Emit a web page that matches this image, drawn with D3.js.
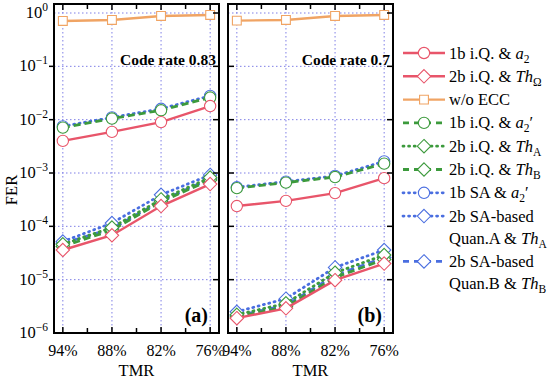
<!DOCTYPE html>
<html>
<script src="https://d3js.org/d3.v7.min.js"></script>
<body style="margin:0;background:#fff">
<div id="chart"></div>
<script>

// x categories and y ticks
var tmr = ["94%", "88%", "82%", "76%"];
var yTicks = [1e0, 1e-1, 1e-2, 1e-3, 1e-4, 1e-5, 1e-6];

// panel (a), code rate 0.83
var a_iQ1b_a2   = [4.0e-3, 5.9e-3, 9.0e-3, 1.8e-2];
var a_iQ2b_thO  = [3.6e-5, 6.8e-5, 2.4e-4, 6.2e-4];
var a_noECC     = [0.71, 0.74, 0.88, 0.92];
var a_iQ1b_a2p  = [7.1e-3, 1.05e-2, 1.5e-2, 2.6e-2];
var a_iQ2b_thA  = [4.6e-5, 9.5e-5, 3.2e-4, 8.2e-4];
var a_iQ2b_thB  = [4.2e-5, 8.5e-5, 2.9e-4, 7.4e-4];
var a_SA1b_a2p  = [7.5e-3, 1.1e-2, 1.6e-2, 2.8e-2];
var a_SA2b_thA  = [5.2e-5, 1.15e-4, 3.9e-4, 9.2e-4];
var a_SA2b_thB  = [4.8e-5, 9.0e-5, 3.0e-4, 7.8e-4];

// panel (b), code rate 0.7
var b_iQ1b_a2   = [2.4e-4, 3.0e-4, 4.2e-4, 8.0e-4];
var b_iQ2b_thO  = [1.9e-6, 2.9e-6, 9.8e-6, 2.0e-5];
var b_noECC     = [0.72, 0.74, 0.88, 0.92];
var b_iQ1b_a2p  = [5.2e-4, 6.6e-4, 8.4e-4, 1.5e-3];
var b_iQ2b_thA  = [2.2e-6, 3.6e-6, 1.35e-5, 2.9e-5];
var b_iQ2b_thB  = [2.0e-6, 3.1e-6, 1.1e-5, 2.4e-5];
var b_SA1b_a2p  = [5.4e-4, 6.9e-4, 8.8e-4, 1.65e-3];
var b_SA2b_thA  = [2.5e-6, 4.4e-6, 1.7e-5, 3.6e-5];
var b_SA2b_thB  = [2.1e-6, 3.3e-6, 1.2e-5, 2.6e-5];

var red = "#e8556a", orange = "#f0a464", green = "#3c9a3c", blue = "#4a6ee0";
var dashed = "7,4", dotted = "1,4.5";

// series styles (legend order)
var series = [
  {a: a_iQ1b_a2,  b: b_iQ1b_a2,  color: red,    dash: null,   mk: "circle",  label: [[["1b i.Q. & "],["a","i"],["2","sub"]]]},
  {a: a_iQ2b_thO, b: b_iQ2b_thO, color: red,    dash: null,   mk: "diamond", label: [[["2b i.Q. & "],["Th","i"],["Ω","sub"]]]},
  {a: a_noECC,    b: b_noECC,    color: orange, dash: null,   mk: "square",  label: [[["w/o ECC"]]]},
  {a: a_iQ1b_a2p, b: b_iQ1b_a2p, color: green,  dash: dashed, mk: "circle",  label: [[["1b i.Q. & "],["a","i"],["2","sub"],["′"]]]},
  {a: a_iQ2b_thA, b: b_iQ2b_thA, color: green,  dash: dotted, mk: "diamond", label: [[["2b i.Q. & "],["Th","i"],["A","sub"]]]},
  {a: a_iQ2b_thB, b: b_iQ2b_thB, color: green,  dash: dashed, mk: "diamond", label: [[["2b i.Q. & "],["Th","i"],["B","sub"]]]},
  {a: a_SA1b_a2p, b: b_SA1b_a2p, color: blue,   dash: dotted, mk: "circle",  label: [[["1b SA & "],["a","i"],["2","sub"],["′"]]]},
  {a: a_SA2b_thA, b: b_SA2b_thA, color: blue,   dash: dotted, mk: "diamond", label: [[["2b SA-based"]],[["Quan.A & "],["Th","i"],["A","sub"]]]},
  {a: a_SA2b_thB, b: b_SA2b_thB, color: blue,   dash: dashed, mk: "diamond", label: [[["2b SA-based"]],[["Quan.B & "],["Th","i"],["B","sub"]]]}
];

var W = 550, H = 380;
var font = "'Liberation Serif', 'Times New Roman', serif";
var plotTop = 4, plotBottom = 333;

var svg = d3.select("#chart").append("svg")
    .attr("width", W).attr("height", H)
    .style("font-family", font);

var y = d3.scaleLog().domain([1e-6, 1.475]).range([plotBottom, plotTop]);

var panels = [
  {key: "a", x0: 54,  x1: 219, tag: "(a)", rate: "Code rate 0.83"},
  {key: "b", x0: 228, x1: 393, tag: "(b)", rate: "Code rate 0.7"}
];

var symbol = {
  circle: d3.symbol().type(d3.symbolCircle).size(100),
  diamond: d3.symbol().type(d3.symbolDiamond2).size(115),
  square: d3.symbol().type(d3.symbolSquare).size(78)
};

panels.forEach(function(p, pi) {
  var x = d3.scalePoint().domain(tmr).range([p.x0, p.x1]).padding(0.18);
  var g = svg.append("g");

  // grid
  g.selectAll(".gx").data(tmr).enter().append("line")
    .attr("x1", function(d) { return x(d); }).attr("x2", function(d) { return x(d); })
    .attr("y1", plotTop).attr("y2", plotBottom)
    .attr("stroke", "#7f7fe6").attr("stroke-width", 1).attr("stroke-dasharray", "1.5,2.5");
  g.selectAll(".gy").data(yTicks.slice(0, 6)).enter().append("line")
    .attr("x1", p.x0).attr("x2", p.x1)
    .attr("y1", function(d) { return y(d); }).attr("y2", function(d) { return y(d); })
    .attr("stroke", "#7f7fe6").attr("stroke-width", 1).attr("stroke-dasharray", "1.5,2.5");

  // lines, drawn back to front
  var line = d3.line()
    .x(function(d, i) { return x(tmr[i]); })
    .y(function(d) { return y(d); });
  series.slice().reverse().forEach(function(s) {
    var vals = s[p.key];
    g.append("path").datum(vals)
      .attr("d", line)
      .attr("fill", "none")
      .attr("stroke", s.color)
      .attr("stroke-width", s.dash ? 2.8 : 2.4)
      .attr("stroke-linecap", s.dash === dotted ? "round" : "butt")
      .attr("stroke-dasharray", s.dash);
    g.selectAll(null).data(vals).enter().append("path")
      .attr("d", symbol[s.mk])
      .attr("transform", function(d, i) { return "translate(" + x(tmr[i]) + "," + y(d) + ")"; })
      .attr("fill", "#fff")
      .attr("stroke", s.color)
      .attr("stroke-width", 1.1);
  });

  // frame
  g.append("rect")
    .attr("x", p.x0).attr("y", plotTop)
    .attr("width", p.x1 - p.x0).attr("height", plotBottom - plotTop)
    .attr("fill", "none").attr("stroke", "#000").attr("stroke-width", 2);

  // ticks: major + minor on x (inward), major on y
  var step = x.step();
  var xt = [];
  tmr.forEach(function(t, i) {
    xt.push({v: x(t), len: 6});
    if (i < tmr.length - 1) xt.push({v: x(t) + step / 2, len: 5});
  });
  g.selectAll(".tt").data(xt).enter().append("line")
    .attr("x1", function(d) { return d.v; }).attr("x2", function(d) { return d.v; })
    .attr("y1", plotTop).attr("y2", function(d) { return plotTop + d.len; })
    .attr("stroke", "#000").attr("stroke-width", 1.5);
  g.selectAll(".tb").data(xt).enter().append("line")
    .attr("x1", function(d) { return d.v; }).attr("x2", function(d) { return d.v; })
    .attr("y1", plotBottom).attr("y2", function(d) { return plotBottom - d.len; })
    .attr("stroke", "#000").attr("stroke-width", 1.5);
  var yt = yTicks.slice(1, 6);
  g.selectAll(".tl").data(yt).enter().append("line")
    .attr("x1", pi === 0 ? p.x0 - 5 : p.x0).attr("x2", pi === 0 ? p.x0 : p.x0 + 6)
    .attr("y1", function(d) { return y(d); }).attr("y2", function(d) { return y(d); })
    .attr("stroke", "#000").attr("stroke-width", 1.5);
  g.selectAll(".tr").data(yTicks.slice(0, 6)).enter().append("line")
    .attr("x1", p.x1 - 6).attr("x2", p.x1)
    .attr("y1", function(d) { return y(d); }).attr("y2", function(d) { return y(d); })
    .attr("stroke", "#000").attr("stroke-width", 1.5);

  // x tick labels
  g.selectAll(".xl").data(tmr).enter().append("text")
    .attr("x", function(d) { return x(d); }).attr("y", 356)
    .attr("text-anchor", "middle").attr("font-size", 16)
    .text(function(d) { return d; });
  g.append("text")
    .attr("x", (p.x0 + p.x1) / 2).attr("y", 376)
    .attr("text-anchor", "middle").attr("font-size", 16.5)
    .text("TMR");

  // annotations
  g.append("text")
    .attr("x", p.x1 - 3).attr("y", 65)
    .attr("text-anchor", "end").attr("font-size", 15.5).attr("font-weight", "bold")
    .text(p.rate);
  g.append("text")
    .attr("x", p.x1 - 11).attr("y", 322)
    .attr("text-anchor", "end").attr("font-size", 20).attr("font-weight", "bold")
    .text(p.tag);

  // y tick labels on left panel only
  if (pi === 0) {
    yTicks.forEach(function(v) {
      var e = Math.round(Math.log10(v));
      var t = g.append("text")
        .attr("x", p.x0 - 6).attr("y", y(v) + 5)
        .attr("text-anchor", "end").attr("font-size", 16.5);
      t.append("tspan").text("10");
      t.append("tspan").attr("font-size", 11.5).attr("dy", -7).text(e === 0 ? "0" : "−" + (-e));
    });
  }
});

svg.append("text")
  .attr("transform", "translate(17,190) rotate(-90)")
  .attr("text-anchor", "middle").attr("font-size", 16.5)
  .text("FER");

// legend
var ly = 53;
series.forEach(function(s) {
  var lg = svg.append("g").attr("transform", "translate(0," + ly + ")");
  lg.append("line")
    .attr("x1", 403).attr("x2", 445).attr("y1", 0).attr("y2", 0)
    .attr("stroke", s.color)
    .attr("stroke-width", s.dash ? 2.8 : 2.4)
    .attr("stroke-linecap", s.dash === dotted ? "round" : "butt")
    .attr("stroke-dasharray", s.dash === dashed ? "6,5" : s.dash === dotted ? "1,4.6" : null);
  lg.append("path")
    .attr("d", symbol[s.mk])
    .attr("transform", "translate(424,0)")
    .attr("fill", "#fff").attr("stroke", s.color).attr("stroke-width", 1.1);
  s.label.forEach(function(row, ri) {
    var t = lg.append("text")
      .attr("x", 449).attr("y", 5.5 + ri * 22)
      .attr("font-size", 16.5);
    var shifted = false;
    row.forEach(function(part) {
      var sp = t.append("tspan").text(part[0]);
      if (part[1] === "i") sp.attr("font-style", "italic");
      if (part[1] === "sub") { sp.attr("font-size", 11.5).attr("dy", 4); shifted = true; }
      else if (shifted) { sp.attr("dy", -4); shifted = false; }
    });
  });
  ly += 23.3 + (s.label.length - 1) * 22;
});

</script>
</body>
</html>
